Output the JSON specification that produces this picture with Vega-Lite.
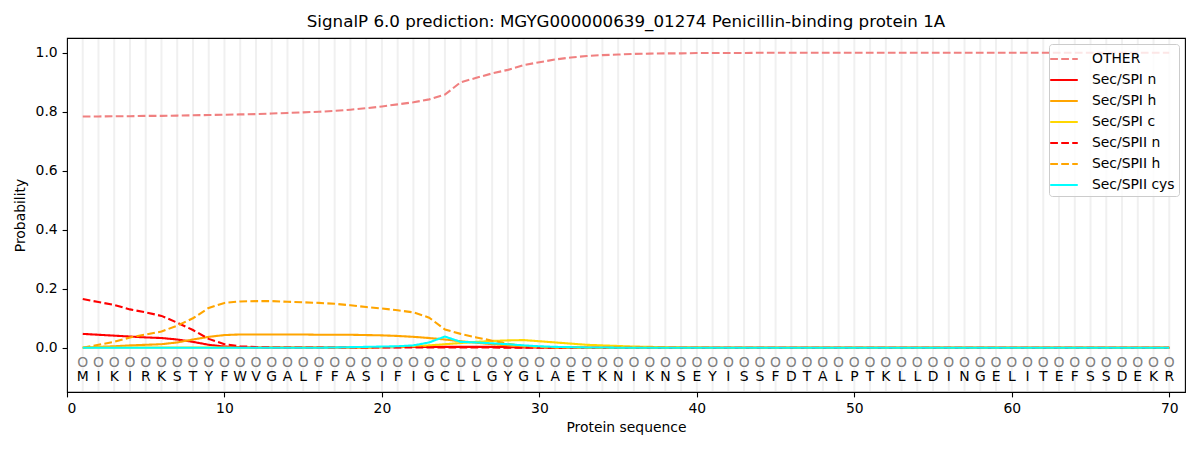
{
  "$schema": "https://vega.github.io/schema/vega-lite/v6.json",
  "width": 1118,
  "height": 354,
  "autosize": {"type": "none"},
  "padding": {"left": 67, "top": 38, "right": 15, "bottom": 58},
  "title": {
    "text": "SignalP 6.0 prediction: MGYG000000639_01274 Penicillin-binding protein 1A",
    "fontSize": 16.7,
    "fontWeight": "normal",
    "font": "DejaVu Sans",
    "color": "black",
    "offset": 7
  },
  "config": {
    "font": "DejaVu Sans",
    "view": {"stroke": "black", "strokeWidth": 1.1},
    "axis": {
      "domain": false,
      "grid": false,
      "tickColor": "black",
      "tickSize": 4.9,
      "tickWidth": 1.1,
      "labelFontSize": 13.9,
      "labelColor": "black",
      "labelPadding": 4.9,
      "titleFontSize": 13.9,
      "titleFontWeight": "normal",
      "titleColor": "black"
    },
    "legend": {
      "orient": "top-right",
      "offset": 6,
      "padding": 4,
      "title": null,
      "strokeColor": "#cccccc",
      "fillColor": "rgba(255,255,255,0.8)",
      "cornerRadius": 3,
      "labelFontSize": 13.9,
      "labelColor": "black",
      "symbolType": "M-1.45,0H1.45",
      "symbolSize": 361,
      "symbolStrokeWidth": 2.1,
      "labelOffset": 17,
      "rowPadding": 3
    }
  },
  "data": {
    "values": [
      {"pos": 1, "aa": "M", "pred": "O", "OTHER": 0.784, "Sec/SPI n": 0.047, "Sec/SPI h": 0.000, "Sec/SPI c": 0.001, "Sec/SPII n": 0.165, "Sec/SPII h": 0.000, "Sec/SPII cys": 0.000},
      {"pos": 2, "aa": "I", "pred": "O", "OTHER": 0.784, "Sec/SPI n": 0.044, "Sec/SPI h": 0.003, "Sec/SPI c": 0.001, "Sec/SPII n": 0.155, "Sec/SPII h": 0.010, "Sec/SPII cys": 0.000},
      {"pos": 3, "aa": "K", "pred": "O", "OTHER": 0.785, "Sec/SPI n": 0.041, "Sec/SPI h": 0.005, "Sec/SPI c": 0.001, "Sec/SPII n": 0.145, "Sec/SPII h": 0.020, "Sec/SPII cys": 0.000},
      {"pos": 4, "aa": "I", "pred": "O", "OTHER": 0.785, "Sec/SPI n": 0.038, "Sec/SPI h": 0.008, "Sec/SPI c": 0.001, "Sec/SPII n": 0.130, "Sec/SPII h": 0.035, "Sec/SPII cys": 0.000},
      {"pos": 5, "aa": "R", "pred": "O", "OTHER": 0.786, "Sec/SPI n": 0.035, "Sec/SPI h": 0.010, "Sec/SPI c": 0.001, "Sec/SPII n": 0.120, "Sec/SPII h": 0.045, "Sec/SPII cys": 0.000},
      {"pos": 6, "aa": "K", "pred": "O", "OTHER": 0.786, "Sec/SPI n": 0.033, "Sec/SPI h": 0.012, "Sec/SPI c": 0.001, "Sec/SPII n": 0.108, "Sec/SPII h": 0.055, "Sec/SPII cys": 0.000},
      {"pos": 7, "aa": "S", "pred": "O", "OTHER": 0.787, "Sec/SPI n": 0.028, "Sec/SPI h": 0.018, "Sec/SPI c": 0.001, "Sec/SPII n": 0.085, "Sec/SPII h": 0.075, "Sec/SPII cys": 0.000},
      {"pos": 8, "aa": "T", "pred": "O", "OTHER": 0.788, "Sec/SPI n": 0.020, "Sec/SPI h": 0.028, "Sec/SPI c": 0.001, "Sec/SPII n": 0.060, "Sec/SPII h": 0.100, "Sec/SPII cys": 0.000},
      {"pos": 9, "aa": "Y", "pred": "O", "OTHER": 0.789, "Sec/SPI n": 0.010, "Sec/SPI h": 0.037, "Sec/SPI c": 0.001, "Sec/SPII n": 0.030, "Sec/SPII h": 0.135, "Sec/SPII cys": 0.000},
      {"pos": 10, "aa": "F", "pred": "O", "OTHER": 0.790, "Sec/SPI n": 0.004, "Sec/SPI h": 0.043, "Sec/SPI c": 0.001, "Sec/SPII n": 0.012, "Sec/SPII h": 0.152, "Sec/SPII cys": 0.000},
      {"pos": 11, "aa": "W", "pred": "O", "OTHER": 0.791, "Sec/SPI n": 0.002, "Sec/SPI h": 0.045, "Sec/SPI c": 0.001, "Sec/SPII n": 0.005, "Sec/SPII h": 0.157, "Sec/SPII cys": 0.000},
      {"pos": 12, "aa": "V", "pred": "O", "OTHER": 0.792, "Sec/SPI n": 0.001, "Sec/SPI h": 0.045, "Sec/SPI c": 0.001, "Sec/SPII n": 0.002, "Sec/SPII h": 0.158, "Sec/SPII cys": 0.000},
      {"pos": 13, "aa": "G", "pred": "O", "OTHER": 0.794, "Sec/SPI n": 0.001, "Sec/SPI h": 0.045, "Sec/SPI c": 0.001, "Sec/SPII n": 0.001, "Sec/SPII h": 0.158, "Sec/SPII cys": 0.000},
      {"pos": 14, "aa": "A", "pred": "O", "OTHER": 0.796, "Sec/SPI n": 0.001, "Sec/SPI h": 0.045, "Sec/SPI c": 0.001, "Sec/SPII n": 0.001, "Sec/SPII h": 0.156, "Sec/SPII cys": 0.000},
      {"pos": 15, "aa": "L", "pred": "O", "OTHER": 0.798, "Sec/SPI n": 0.001, "Sec/SPI h": 0.045, "Sec/SPI c": 0.001, "Sec/SPII n": 0.001, "Sec/SPII h": 0.154, "Sec/SPII cys": 0.000},
      {"pos": 16, "aa": "F", "pred": "O", "OTHER": 0.800, "Sec/SPI n": 0.001, "Sec/SPI h": 0.044, "Sec/SPI c": 0.001, "Sec/SPII n": 0.001, "Sec/SPII h": 0.152, "Sec/SPII cys": 0.000},
      {"pos": 17, "aa": "F", "pred": "O", "OTHER": 0.803, "Sec/SPI n": 0.001, "Sec/SPI h": 0.044, "Sec/SPI c": 0.001, "Sec/SPII n": 0.001, "Sec/SPII h": 0.149, "Sec/SPII cys": 0.001},
      {"pos": 18, "aa": "A", "pred": "O", "OTHER": 0.807, "Sec/SPI n": 0.001, "Sec/SPI h": 0.044, "Sec/SPI c": 0.001, "Sec/SPII n": 0.001, "Sec/SPII h": 0.144, "Sec/SPII cys": 0.002},
      {"pos": 19, "aa": "S", "pred": "O", "OTHER": 0.812, "Sec/SPI n": 0.001, "Sec/SPI h": 0.043, "Sec/SPI c": 0.001, "Sec/SPII n": 0.001, "Sec/SPII h": 0.138, "Sec/SPII cys": 0.003},
      {"pos": 20, "aa": "I", "pred": "O", "OTHER": 0.818, "Sec/SPI n": 0.002, "Sec/SPI h": 0.042, "Sec/SPI c": 0.002, "Sec/SPII n": 0.001, "Sec/SPII h": 0.133, "Sec/SPII cys": 0.004},
      {"pos": 21, "aa": "F", "pred": "O", "OTHER": 0.825, "Sec/SPI n": 0.002, "Sec/SPI h": 0.040, "Sec/SPI c": 0.003, "Sec/SPII n": 0.001, "Sec/SPII h": 0.127, "Sec/SPII cys": 0.005},
      {"pos": 22, "aa": "I", "pred": "O", "OTHER": 0.832, "Sec/SPI n": 0.003, "Sec/SPI h": 0.037, "Sec/SPI c": 0.005, "Sec/SPII n": 0.001, "Sec/SPII h": 0.120, "Sec/SPII cys": 0.008},
      {"pos": 23, "aa": "G", "pred": "O", "OTHER": 0.842, "Sec/SPI n": 0.003, "Sec/SPI h": 0.033, "Sec/SPI c": 0.008, "Sec/SPII n": 0.001, "Sec/SPII h": 0.102, "Sec/SPII cys": 0.018},
      {"pos": 24, "aa": "C", "pred": "O", "OTHER": 0.858, "Sec/SPI n": 0.003, "Sec/SPI h": 0.028, "Sec/SPI c": 0.012, "Sec/SPII n": 0.001, "Sec/SPII h": 0.062, "Sec/SPII cys": 0.038},
      {"pos": 25, "aa": "L", "pred": "O", "OTHER": 0.900, "Sec/SPI n": 0.003, "Sec/SPI h": 0.022, "Sec/SPI c": 0.016, "Sec/SPII n": 0.001, "Sec/SPII h": 0.047, "Sec/SPII cys": 0.020},
      {"pos": 26, "aa": "L", "pred": "O", "OTHER": 0.915, "Sec/SPI n": 0.003, "Sec/SPI h": 0.017, "Sec/SPI c": 0.020, "Sec/SPII n": 0.001, "Sec/SPII h": 0.035, "Sec/SPII cys": 0.018},
      {"pos": 27, "aa": "G", "pred": "O", "OTHER": 0.930, "Sec/SPI n": 0.003, "Sec/SPI h": 0.012, "Sec/SPI c": 0.023, "Sec/SPII n": 0.001, "Sec/SPII h": 0.024, "Sec/SPII cys": 0.015},
      {"pos": 28, "aa": "Y", "pred": "O", "OTHER": 0.942, "Sec/SPI n": 0.002, "Sec/SPI h": 0.008, "Sec/SPI c": 0.025, "Sec/SPII n": 0.000, "Sec/SPII h": 0.013, "Sec/SPII cys": 0.012},
      {"pos": 29, "aa": "G", "pred": "O", "OTHER": 0.958, "Sec/SPI n": 0.001, "Sec/SPI h": 0.004, "Sec/SPI c": 0.026, "Sec/SPII n": 0.000, "Sec/SPII h": 0.006, "Sec/SPII cys": 0.008},
      {"pos": 30, "aa": "L", "pred": "O", "OTHER": 0.968, "Sec/SPI n": 0.001, "Sec/SPI h": 0.002, "Sec/SPI c": 0.022, "Sec/SPII n": 0.000, "Sec/SPII h": 0.003, "Sec/SPII cys": 0.005},
      {"pos": 31, "aa": "A", "pred": "O", "OTHER": 0.977, "Sec/SPI n": 0.000, "Sec/SPI h": 0.001, "Sec/SPI c": 0.018, "Sec/SPII n": 0.000, "Sec/SPII h": 0.001, "Sec/SPII cys": 0.003},
      {"pos": 32, "aa": "E", "pred": "O", "OTHER": 0.984, "Sec/SPI n": 0.000, "Sec/SPI h": 0.001, "Sec/SPI c": 0.014, "Sec/SPII n": 0.000, "Sec/SPII h": 0.001, "Sec/SPII cys": 0.002},
      {"pos": 33, "aa": "T", "pred": "O", "OTHER": 0.989, "Sec/SPI n": 0.000, "Sec/SPI h": 0.000, "Sec/SPI c": 0.010, "Sec/SPII n": 0.000, "Sec/SPII h": 0.000, "Sec/SPII cys": 0.001},
      {"pos": 34, "aa": "K", "pred": "O", "OTHER": 0.992, "Sec/SPI n": 0.000, "Sec/SPI h": 0.000, "Sec/SPI c": 0.008, "Sec/SPII n": 0.000, "Sec/SPII h": 0.000, "Sec/SPII cys": 0.001},
      {"pos": 35, "aa": "N", "pred": "O", "OTHER": 0.994, "Sec/SPI n": 0.000, "Sec/SPI h": 0.000, "Sec/SPI c": 0.006, "Sec/SPII n": 0.000, "Sec/SPII h": 0.000, "Sec/SPII cys": 0.000},
      {"pos": 36, "aa": "I", "pred": "O", "OTHER": 0.996, "Sec/SPI n": 0.000, "Sec/SPI h": 0.000, "Sec/SPI c": 0.004, "Sec/SPII n": 0.000, "Sec/SPII h": 0.000, "Sec/SPII cys": 0.000},
      {"pos": 37, "aa": "K", "pred": "O", "OTHER": 0.997, "Sec/SPI n": 0.000, "Sec/SPI h": 0.000, "Sec/SPI c": 0.003, "Sec/SPII n": 0.000, "Sec/SPII h": 0.000, "Sec/SPII cys": 0.000},
      {"pos": 38, "aa": "N", "pred": "O", "OTHER": 0.998, "Sec/SPI n": 0.000, "Sec/SPI h": 0.000, "Sec/SPI c": 0.002, "Sec/SPII n": 0.000, "Sec/SPII h": 0.000, "Sec/SPII cys": 0.000},
      {"pos": 39, "aa": "S", "pred": "O", "OTHER": 0.998, "Sec/SPI n": 0.000, "Sec/SPI h": 0.000, "Sec/SPI c": 0.001, "Sec/SPII n": 0.000, "Sec/SPII h": 0.000, "Sec/SPII cys": 0.000},
      {"pos": 40, "aa": "E", "pred": "O", "OTHER": 0.999, "Sec/SPI n": 0.000, "Sec/SPI h": 0.000, "Sec/SPI c": 0.001, "Sec/SPII n": 0.000, "Sec/SPII h": 0.000, "Sec/SPII cys": 0.000},
      {"pos": 41, "aa": "Y", "pred": "O", "OTHER": 0.999, "Sec/SPI n": 0.000, "Sec/SPI h": 0.000, "Sec/SPI c": 0.000, "Sec/SPII n": 0.000, "Sec/SPII h": 0.000, "Sec/SPII cys": 0.000},
      {"pos": 42, "aa": "I", "pred": "O", "OTHER": 0.999, "Sec/SPI n": 0.000, "Sec/SPI h": 0.000, "Sec/SPI c": 0.000, "Sec/SPII n": 0.000, "Sec/SPII h": 0.000, "Sec/SPII cys": 0.000},
      {"pos": 43, "aa": "S", "pred": "O", "OTHER": 0.999, "Sec/SPI n": 0.000, "Sec/SPI h": 0.000, "Sec/SPI c": 0.000, "Sec/SPII n": 0.000, "Sec/SPII h": 0.000, "Sec/SPII cys": 0.000},
      {"pos": 44, "aa": "S", "pred": "O", "OTHER": 1.000, "Sec/SPI n": 0.000, "Sec/SPI h": 0.000, "Sec/SPI c": 0.000, "Sec/SPII n": 0.000, "Sec/SPII h": 0.000, "Sec/SPII cys": 0.000},
      {"pos": 45, "aa": "F", "pred": "O", "OTHER": 1.000, "Sec/SPI n": 0.000, "Sec/SPI h": 0.000, "Sec/SPI c": 0.000, "Sec/SPII n": 0.000, "Sec/SPII h": 0.000, "Sec/SPII cys": 0.000},
      {"pos": 46, "aa": "D", "pred": "O", "OTHER": 1.000, "Sec/SPI n": 0.000, "Sec/SPI h": 0.000, "Sec/SPI c": 0.000, "Sec/SPII n": 0.000, "Sec/SPII h": 0.000, "Sec/SPII cys": 0.000},
      {"pos": 47, "aa": "T", "pred": "O", "OTHER": 1.000, "Sec/SPI n": 0.000, "Sec/SPI h": 0.000, "Sec/SPI c": 0.000, "Sec/SPII n": 0.000, "Sec/SPII h": 0.000, "Sec/SPII cys": 0.000},
      {"pos": 48, "aa": "A", "pred": "O", "OTHER": 1.000, "Sec/SPI n": 0.000, "Sec/SPI h": 0.000, "Sec/SPI c": 0.000, "Sec/SPII n": 0.000, "Sec/SPII h": 0.000, "Sec/SPII cys": 0.000},
      {"pos": 49, "aa": "L", "pred": "O", "OTHER": 1.000, "Sec/SPI n": 0.000, "Sec/SPI h": 0.000, "Sec/SPI c": 0.000, "Sec/SPII n": 0.000, "Sec/SPII h": 0.000, "Sec/SPII cys": 0.000},
      {"pos": 50, "aa": "P", "pred": "O", "OTHER": 1.000, "Sec/SPI n": 0.000, "Sec/SPI h": 0.000, "Sec/SPI c": 0.000, "Sec/SPII n": 0.000, "Sec/SPII h": 0.000, "Sec/SPII cys": 0.000},
      {"pos": 51, "aa": "T", "pred": "O", "OTHER": 1.000, "Sec/SPI n": 0.000, "Sec/SPI h": 0.000, "Sec/SPI c": 0.000, "Sec/SPII n": 0.000, "Sec/SPII h": 0.000, "Sec/SPII cys": 0.000},
      {"pos": 52, "aa": "K", "pred": "O", "OTHER": 1.000, "Sec/SPI n": 0.000, "Sec/SPI h": 0.000, "Sec/SPI c": 0.000, "Sec/SPII n": 0.000, "Sec/SPII h": 0.000, "Sec/SPII cys": 0.000},
      {"pos": 53, "aa": "L", "pred": "O", "OTHER": 1.000, "Sec/SPI n": 0.000, "Sec/SPI h": 0.000, "Sec/SPI c": 0.000, "Sec/SPII n": 0.000, "Sec/SPII h": 0.000, "Sec/SPII cys": 0.000},
      {"pos": 54, "aa": "L", "pred": "O", "OTHER": 1.000, "Sec/SPI n": 0.000, "Sec/SPI h": 0.000, "Sec/SPI c": 0.000, "Sec/SPII n": 0.000, "Sec/SPII h": 0.000, "Sec/SPII cys": 0.000},
      {"pos": 55, "aa": "D", "pred": "O", "OTHER": 1.000, "Sec/SPI n": 0.000, "Sec/SPI h": 0.000, "Sec/SPI c": 0.000, "Sec/SPII n": 0.000, "Sec/SPII h": 0.000, "Sec/SPII cys": 0.000},
      {"pos": 56, "aa": "I", "pred": "O", "OTHER": 1.000, "Sec/SPI n": 0.000, "Sec/SPI h": 0.000, "Sec/SPI c": 0.000, "Sec/SPII n": 0.000, "Sec/SPII h": 0.000, "Sec/SPII cys": 0.000},
      {"pos": 57, "aa": "N", "pred": "O", "OTHER": 1.000, "Sec/SPI n": 0.000, "Sec/SPI h": 0.000, "Sec/SPI c": 0.000, "Sec/SPII n": 0.000, "Sec/SPII h": 0.000, "Sec/SPII cys": 0.000},
      {"pos": 58, "aa": "G", "pred": "O", "OTHER": 1.000, "Sec/SPI n": 0.000, "Sec/SPI h": 0.000, "Sec/SPI c": 0.000, "Sec/SPII n": 0.000, "Sec/SPII h": 0.000, "Sec/SPII cys": 0.000},
      {"pos": 59, "aa": "E", "pred": "O", "OTHER": 1.000, "Sec/SPI n": 0.000, "Sec/SPI h": 0.000, "Sec/SPI c": 0.000, "Sec/SPII n": 0.000, "Sec/SPII h": 0.000, "Sec/SPII cys": 0.000},
      {"pos": 60, "aa": "L", "pred": "O", "OTHER": 1.000, "Sec/SPI n": 0.000, "Sec/SPI h": 0.000, "Sec/SPI c": 0.000, "Sec/SPII n": 0.000, "Sec/SPII h": 0.000, "Sec/SPII cys": 0.000},
      {"pos": 61, "aa": "I", "pred": "O", "OTHER": 1.000, "Sec/SPI n": 0.000, "Sec/SPI h": 0.000, "Sec/SPI c": 0.000, "Sec/SPII n": 0.000, "Sec/SPII h": 0.000, "Sec/SPII cys": 0.000},
      {"pos": 62, "aa": "T", "pred": "O", "OTHER": 1.000, "Sec/SPI n": 0.000, "Sec/SPI h": 0.000, "Sec/SPI c": 0.000, "Sec/SPII n": 0.000, "Sec/SPII h": 0.000, "Sec/SPII cys": 0.000},
      {"pos": 63, "aa": "E", "pred": "O", "OTHER": 1.000, "Sec/SPI n": 0.000, "Sec/SPI h": 0.000, "Sec/SPI c": 0.000, "Sec/SPII n": 0.000, "Sec/SPII h": 0.000, "Sec/SPII cys": 0.000},
      {"pos": 64, "aa": "F", "pred": "O", "OTHER": 1.000, "Sec/SPI n": 0.000, "Sec/SPI h": 0.000, "Sec/SPI c": 0.000, "Sec/SPII n": 0.000, "Sec/SPII h": 0.000, "Sec/SPII cys": 0.000},
      {"pos": 65, "aa": "S", "pred": "O", "OTHER": 1.000, "Sec/SPI n": 0.000, "Sec/SPI h": 0.000, "Sec/SPI c": 0.000, "Sec/SPII n": 0.000, "Sec/SPII h": 0.000, "Sec/SPII cys": 0.000},
      {"pos": 66, "aa": "S", "pred": "O", "OTHER": 1.000, "Sec/SPI n": 0.000, "Sec/SPI h": 0.000, "Sec/SPI c": 0.000, "Sec/SPII n": 0.000, "Sec/SPII h": 0.000, "Sec/SPII cys": 0.000},
      {"pos": 67, "aa": "D", "pred": "O", "OTHER": 1.000, "Sec/SPI n": 0.000, "Sec/SPI h": 0.000, "Sec/SPI c": 0.000, "Sec/SPII n": 0.000, "Sec/SPII h": 0.000, "Sec/SPII cys": 0.000},
      {"pos": 68, "aa": "E", "pred": "O", "OTHER": 1.000, "Sec/SPI n": 0.000, "Sec/SPI h": 0.000, "Sec/SPI c": 0.000, "Sec/SPII n": 0.000, "Sec/SPII h": 0.000, "Sec/SPII cys": 0.000},
      {"pos": 69, "aa": "K", "pred": "O", "OTHER": 1.000, "Sec/SPI n": 0.000, "Sec/SPI h": 0.000, "Sec/SPI c": 0.000, "Sec/SPII n": 0.000, "Sec/SPII h": 0.000, "Sec/SPII cys": 0.000},
      {"pos": 70, "aa": "R", "pred": "O", "OTHER": 1.000, "Sec/SPI n": 0.000, "Sec/SPI h": 0.000, "Sec/SPI c": 0.000, "Sec/SPII n": 0.000, "Sec/SPII h": 0.000, "Sec/SPII cys": 0.000}
    ]
  },
  "encoding": {
    "x": {
      "field": "pos",
      "type": "quantitative",
      "scale": {"domain": [0, 71], "nice": false, "zero": false},
      "axis": {"title": "Protein sequence", "values": [0, 10, 20, 30, 40, 50, 60, 70], "titlePadding": 5}
    }
  },
  "layer": [
    {
      "mark": {"type": "rule", "color": "#f0f0f0", "strokeWidth": 2},
      "encoding": {
        "y": {"datum": -0.147, "type": "quantitative"},
        "y2": {"datum": 1.047}
      }
    },
    {
      "mark": {"type": "text", "color": "#808080", "fontSize": 13.9, "baseline": "middle", "align": "center"},
      "encoding": {
        "y": {"datum": -0.05, "type": "quantitative"},
        "text": {"field": "pred"}
      }
    },
    {
      "mark": {"type": "text", "color": "black", "fontSize": 13.9, "baseline": "middle", "align": "center"},
      "encoding": {
        "y": {"datum": -0.1, "type": "quantitative"},
        "text": {"field": "aa"}
      }
    },
    {
      "transform": [
        {"fold": ["OTHER", "Sec/SPI n", "Sec/SPI h", "Sec/SPI c", "Sec/SPII n", "Sec/SPII h", "Sec/SPII cys"], "as": ["series", "p"]}
      ],
      "mark": {"type": "line", "strokeWidth": 2.1},
      "encoding": {
        "y": {
          "field": "p",
          "type": "quantitative",
          "scale": {"domain": [-0.15, 1.05], "nice": false, "zero": false},
          "axis": {"title": "Probability", "values": [0, 0.2, 0.4, 0.6, 0.8, 1.0], "format": ".1f", "titlePadding": 8}
        },
        "color": {
          "field": "series",
          "type": "nominal",
          "scale": {
            "domain": ["OTHER", "Sec/SPI n", "Sec/SPI h", "Sec/SPI c", "Sec/SPII n", "Sec/SPII h", "Sec/SPII cys"],
            "range": ["#f08080", "#ff0000", "#ffa500", "#ffd700", "#ff0000", "#ffa500", "#00ffff"]
          }
        },
        "strokeDash": {
          "field": "series",
          "type": "nominal",
          "scale": {
            "domain": ["OTHER", "Sec/SPI n", "Sec/SPI h", "Sec/SPI c", "Sec/SPII n", "Sec/SPII h", "Sec/SPII cys"],
            "range": [[7.7, 3.3], [1, 0], [1, 0], [1, 0], [7.7, 3.3], [7.7, 3.3], [1, 0]]
          }
        }
      }
    }
  ]
}
